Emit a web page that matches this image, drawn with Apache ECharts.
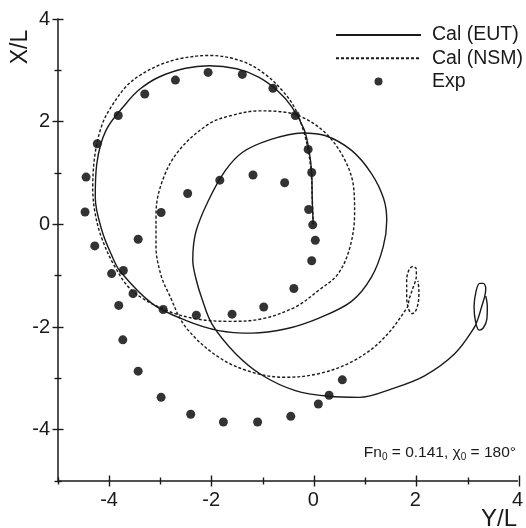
<!DOCTYPE html>
<html>
<head>
<meta charset="utf-8">
<script src="https://cdn.jsdelivr.net/npm/echarts@6/dist/echarts.min.js"></script>
<style>
  html, body { margin: 0; padding: 0; background: #fff; }
  #chart { width: 526px; height: 528px; }
</style>
</head>
<body>
<div id="chart"></div>
<script>
// Axis ranges and ticks (Y/L horizontal, X/L vertical)
const axisMin = -5;
const axisMax = 4;
const majorTicks = [-4, -2, 0, 2, 4];
const minorTicks = [-5, -3, -1, 1, 3];

// Cal (EUT) trajectory: [Y/L, X/L]
const calEUT = [
  [0, 0], [-0.02, 0.5], [-0.03, 1.0], [-0.08, 1.42], [-0.18, 1.85], [-0.42, 2.29],
  [-0.72, 2.62], [-1.07, 2.87], [-1.5, 3.03], [-2.04, 3.09], [-2.5, 3.04],
  [-3.02, 2.87], [-3.4, 2.63], [-3.67, 2.35], [-4.06, 1.83], [-4.24, 1.18],
  [-4.27, 0.53], [-4.14, -0.12], [-3.95, -0.6], [-3.78, -0.92], [-3.15, -1.55],
  [-2.5, -1.87], [-1.85, -2.07], [-1.2, -2.12], [-0.55, -2.04], [0.1, -1.83],
  [0.75, -1.5], [1.14, -1.03], [1.37, -0.44], [1.44, 0.08], [1.38, 0.5],
  [1.14, 0.99], [0.75, 1.44], [0.23, 1.73], [-0.22, 1.78], [-0.87, 1.64],
  [-1.39, 1.4], [-1.72, 1.05], [-2.06, 0.45], [-2.3, -0.15], [-2.36, -0.7],
  [-2.3, -1.05], [-2.18, -1.45], [-1.98, -1.95], [-1.52, -2.52], [-1.0, -2.94],
  [-0.35, -3.24], [0.3, -3.35], [0.9, -3.37], [1.55, -3.2], [2.18, -2.95],
  [2.77, -2.52], [3.16, -2.0], [3.24, -1.8], [3.3, -1.6], [3.36, -1.4],
  [3.38, -1.25], [3.33, -1.15], [3.26, -1.15], [3.19, -1.3], [3.15, -1.6],
  [3.18, -1.9], [3.25, -2.06], [3.33, -2.02], [3.4, -1.85], [3.41, -1.6],
  [3.38, -1.4]
];

// Cal (NSM) trajectory: [Y/L, X/L]
const calNSM = [
  [0, 0], [-0.02, 0.5], [-0.04, 1.0], [-0.1, 1.45], [-0.2, 1.85], [-0.38, 2.3],
  [-0.62, 2.62], [-0.95, 2.93], [-1.4, 3.18], [-2.04, 3.29], [-2.6, 3.23],
  [-3.02, 3.1], [-3.4, 2.9], [-3.67, 2.68], [-3.95, 2.3], [-4.13, 1.96],
  [-4.27, 1.4], [-4.32, 0.7], [-4.27, 0.2], [-4.15, -0.25], [-3.9, -0.8],
  [-3.54, -1.3], [-2.89, -1.67], [-2.3, -1.84], [-1.65, -1.89], [-1.0, -1.84],
  [-0.35, -1.61], [0.1, -1.29], [0.49, -0.96], [0.72, -0.44], [0.81, 0.21],
  [0.79, 0.73], [0.62, 1.25], [0.27, 1.75], [-0.22, 2.09], [-0.7, 2.2],
  [-1.07, 2.21], [-1.6, 2.12], [-2.04, 1.96], [-2.63, 1.44], [-2.95, 0.86],
  [-3.08, 0.21], [-3.08, -0.44], [-2.98, -1.0], [-2.83, -1.35], [-2.5, -2.0],
  [-1.85, -2.59], [-1.2, -2.88], [-0.55, -2.98], [0.1, -2.91], [0.75, -2.68],
  [1.34, -2.26], [1.84, -1.62], [1.88, -1.45], [1.95, -1.25], [2.02, -1.0],
  [2.02, -0.87], [1.95, -0.82], [1.87, -0.9], [1.83, -1.1], [1.83, -1.4],
  [1.86, -1.62], [1.93, -1.74], [2.0, -1.7], [2.06, -1.5], [2.07, -1.3],
  [2.05, -1.1]
];

// Exp points: [Y/L, X/L]
const expPoints = [
  [-2.06, 2.96], [-1.39, 2.92], [-2.70, 2.81], [-3.30, 2.54], [-3.82, 2.12],
  [-4.23, 1.57], [-4.45, 0.92], [-4.47, 0.24], [-4.28, -0.42], [-3.43, -0.29],
  [-2.98, 0.23], [-2.46, 0.60], [-1.83, 0.86], [-1.18, 0.96], [-0.79, 2.65],
  [-0.35, 2.12], [-0.10, 1.46], [-0.03, 1.01], [-0.56, 0.81], [-0.09, 0.29],
  [-0.01, -0.01], [0.04, -0.31], [-0.03, -0.71], [-3.95, -0.96], [-3.72, -0.90],
  [-3.53, -1.35], [-3.81, -1.58], [-2.94, -1.66], [-2.29, -1.77], [-1.59, -1.75],
  [-0.97, -1.61], [-0.38, -1.25], [-3.73, -2.25], [-3.43, -2.86], [-2.98, -3.37],
  [-2.40, -3.70], [-1.76, -3.85], [-1.09, -3.85], [-0.44, -3.74], [0.10, -3.50],
  [0.31, -3.33], [0.57, -3.03]
];

const ink = '#1a1a1a';
const font = 'Liberation Sans, Arial, sans-serif';
const gridRect = { left: 58, right: 7, top: 19, bottom: 47 };

function tickAxis(gridIndex, values, half, position) {
  return {
    type: 'value', gridIndex: gridIndex, min: axisMin, max: axisMax,
    position: position,
    offset: -half,
    axisLine: { show: false, onZero: false },
    axisLabel: { show: false },
    splitLine: { show: false },
    axisTick: { show: true, customValues: values, length: half * 2, lineStyle: { color: ink, width: 1.4 } }
  };
}

const hiddenIcon = { color: 'rgba(0,0,0,0)', borderWidth: 0, opacity: 0 };

const chart = echarts.init(document.getElementById('chart'), null, { renderer: 'canvas' });
chart.setOption({
  backgroundColor: '#ffffff',
  animation: false,
  grid: [
    Object.assign({}, gridRect),
    Object.assign({}, gridRect),
    Object.assign({}, gridRect)
  ],
  xAxis: [
    {
      type: 'value', gridIndex: 0, min: axisMin, max: axisMax, position: 'bottom',
      axisLine: { show: true, onZero: false, lineStyle: { color: ink, width: 1.5 } },
      axisTick: { show: false },
      axisLabel: { customValues: majorTicks, margin: 9, color: ink, fontSize: 20, fontFamily: font },
      splitLine: { show: false }
    },
    tickAxis(1, majorTicks, 5.5, 'bottom'),
    tickAxis(2, minorTicks, 3.5, 'bottom')
  ],
  yAxis: [
    {
      type: 'value', gridIndex: 0, min: axisMin, max: axisMax, position: 'left',
      axisLine: { show: true, onZero: false, lineStyle: { color: ink, width: 1.5 } },
      axisTick: { show: false },
      axisLabel: { customValues: majorTicks, margin: 8, color: ink, fontSize: 20, fontFamily: font },
      splitLine: { show: false }
    },
    tickAxis(1, majorTicks, 5.5, 'left'),
    tickAxis(2, minorTicks, 3.5, 'left')
  ],
  legend: {
    orient: 'vertical',
    left: 335,
    top: 25,
    padding: 0,
    itemWidth: 85,
    itemHeight: 8,
    itemGap: 3.3,
    textStyle: { color: ink, fontSize: 19.5, lineHeight: 20, fontFamily: font, padding: [0, 0, 0, 6] },
    data: [
      { name: 'Cal (EUT)', itemStyle: hiddenIcon },
      { name: 'Cal (NSM)', itemStyle: hiddenIcon },
      { name: 'Exp' }
    ]
  },
  series: [
    {
      name: 'Cal (EUT)', type: 'line', xAxisIndex: 0, yAxisIndex: 0,
      data: calEUT, smooth: 0.35, symbol: 'none',
      lineStyle: { color: ink, width: 1.4, type: 'solid' },
      itemStyle: { color: ink }
    },
    {
      name: 'Cal (NSM)', type: 'line', xAxisIndex: 0, yAxisIndex: 0,
      data: calNSM, smooth: 0.35, symbol: 'none',
      lineStyle: { color: ink, width: 1.4, type: [3, 2] },
      itemStyle: { color: ink }
    },
    {
      name: 'Exp', type: 'scatter', xAxisIndex: 0, yAxisIndex: 0,
      data: expPoints, symbol: 'circle', symbolSize: 9,
      itemStyle: { color: '#000' }
    }
  ],
  graphic: [
    {
      type: 'text', x: 21, y: 47, rotation: Math.PI / 2,
      style: { text: 'X/L', fontSize: 23, fontFamily: font, fill: ink, align: 'center', verticalAlign: 'middle' }
    },
    {
      type: 'text', right: 9, top: 507,
      style: { text: 'Y/L', fontSize: 24, fontFamily: font, fill: ink }
    },
    {
      type: 'text', right: 10, top: 445,
      style: {
        text: '{a|Fn}{s|0}{a| = 0.141, χ}{s|0}{a| = 180°}',
        fill: ink,
        rich: {
          a: { fontSize: 15.5, fontFamily: font, fill: ink },
          s: { fontSize: 10, fontFamily: font, fill: ink, padding: [8, 0, 0, 0] }
        }
      }
    }
  ]
});
</script>
</body>
</html>
